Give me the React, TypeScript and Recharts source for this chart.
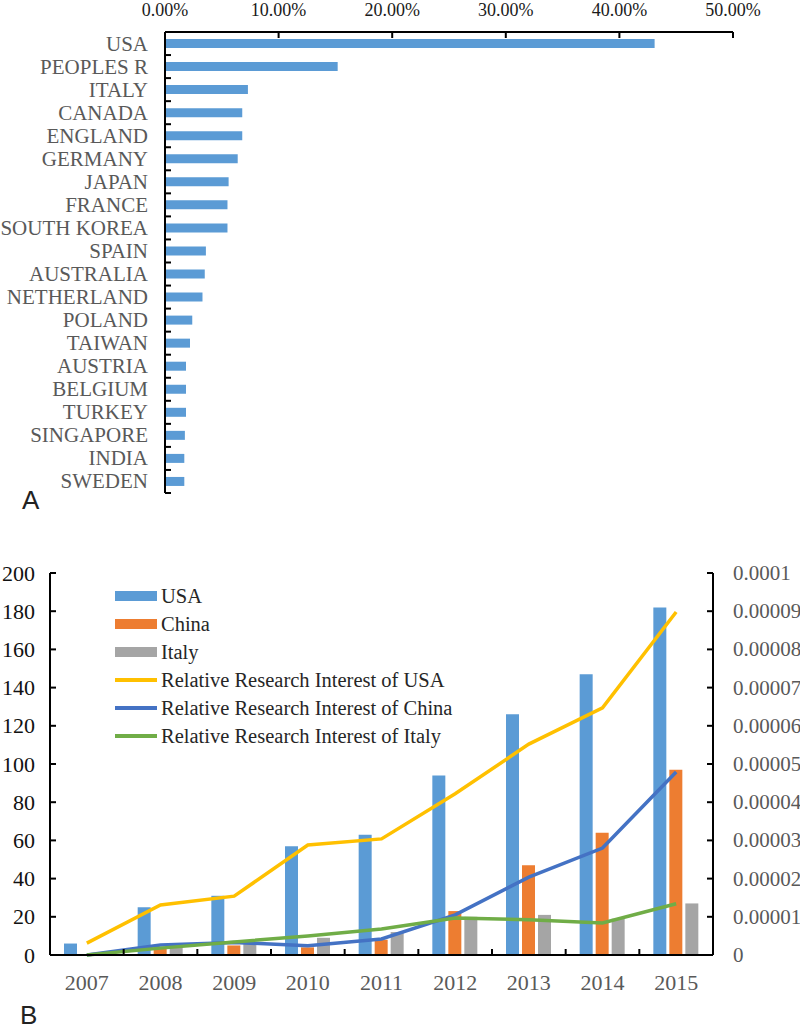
import React from "react";
import { Bar, BarChart, ComposedChart, Legend, Line, XAxis, YAxis } from "recharts";

// Panel A: share of publications by country
const countries = [
  "USA", "PEOPLES R", "ITALY", "CANADA", "ENGLAND", "GERMANY", "JAPAN", "FRANCE",
  "SOUTH KOREA", "SPAIN", "AUSTRALIA", "NETHERLAND", "POLAND", "TAIWAN", "AUSTRIA",
  "BELGIUM", "TURKEY", "SINGAPORE", "INDIA", "SWEDEN",
];
const countryShare = [
  43.1, 15.2, 7.3, 6.8, 6.8, 6.4, 5.6, 5.5, 5.5, 3.6, 3.5, 3.3, 2.4, 2.2, 1.85, 1.85,
  1.85, 1.75, 1.7, 1.7,
];
const shareTicks = [0, 10, 20, 30, 40, 50];

// Panel B: publications per year and relative research interest
const years = ["2007", "2008", "2009", "2010", "2011", "2012", "2013", "2014", "2015"];
const usaPapers = [6, 25, 31, 57, 63, 94, 126, 147, 182];
const chinaPapers = [0, 4, 5, 4, 8, 23, 47, 64, 97];
const italyPapers = [0, 5, 6, 9, 12, 20, 21, 19, 27];
const usaInterest = [0.0000031, 0.0000131, 0.0000154, 0.0000288, 0.0000304, 0.0000422, 0.0000552, 0.0000647, 0.0000898];
const chinaInterest = [0, 0.0000026, 0.0000033, 0.0000024, 0.0000042, 0.0000105, 0.0000204, 0.000028, 0.0000479];
const italyInterest = [0, 0.0000018, 0.0000034, 0.000005, 0.0000068, 0.0000097, 0.0000092, 0.0000084, 0.0000134];
const countTicks = [0, 20, 40, 60, 80, 100, 120, 140, 160, 180, 200];
const interestTicks = [0, 0.00001, 0.00002, 0.00003, 0.00004, 0.00005, 0.00006, 0.00007, 0.00008, 0.00009, 0.0001];

const legendLabels = [
  "USA",
  "China",
  "Italy",
  "Relative Research Interest of USA",
  "Relative Research Interest of China",
  "Relative Research Interest of Italy",
];

const shareData = countries.map((country, i) => ({ country, share: countryShare[i] }));
const yearData = years.map((year, i) => ({
  year,
  usa: usaPapers[i],
  china: chinaPapers[i],
  italy: italyPapers[i],
  usaRI: usaInterest[i],
  chinaRI: chinaInterest[i],
  italyRI: italyInterest[i],
}));

const SERIF = '"Liberation Serif", "Times New Roman", serif';
const SANS = '"Liberation Sans", Arial, sans-serif';
const colors = {
  usa: "#5B9BD5",
  china: "#ED7D31",
  italy: "#A5A5A5",
  usaRI: "#FFC000",
  chinaRI: "#4472C4",
  italyRI: "#70AD47",
};
const axisLine = { stroke: "#000", strokeWidth: 2 };

const topBand = (493 - 32) / countries.length;
const yearBand = (713 - 50) / years.length;

function ShareTick({ x, y, payload }: any) {
  return (
    <g>
      <text x={x} y={y - 22} textAnchor="middle" dominantBaseline="central" fill="#1a1a1a" fontSize={18} fontFamily={SERIF}>
        {payload.value.toFixed(2)}%
      </text>
      {payload.value > 0 && <line x1={x} x2={x} y1={y} y2={y + 6} stroke="#000" strokeWidth={2} />}
    </g>
  );
}

function CountryTick({ x, y, payload }: any) {
  const yb = y + topBand / 2;
  return (
    <g>
      <text x={x - 17} y={y} textAnchor="end" dominantBaseline="central" fill="#595959" fontSize={21} fontFamily={SERIF}>
        {payload.value}
      </text>
      <line x1={x} x2={x + 6} y1={yb} y2={yb} stroke="#000" strokeWidth={2} />
    </g>
  );
}

function YearTick({ x, y, payload, index }: any) {
  const xb = x + yearBand / 2;
  return (
    <g>
      <text x={x} y={y + 27} textAnchor="middle" dominantBaseline="central" fill="#595959" fontSize={22} fontFamily={SERIF}>
        {payload.value}
      </text>
      {index < years.length - 1 && <line x1={xb} x2={xb} y1={y} y2={y - 6} stroke="#000" strokeWidth={2} />}
    </g>
  );
}

function CountTick({ x, y, payload }: any) {
  return (
    <g>
      <text x={x - 15} y={y} textAnchor="end" dominantBaseline="central" fill="#111" fontSize={22} fontFamily={SERIF}>
        {payload.value}
      </text>
      <line x1={x} x2={x + 6} y1={y} y2={y} stroke="#000" strokeWidth={2} />
    </g>
  );
}

function InterestTick({ x, y, payload }: any) {
  const v = payload.value;
  const label = v === 0 ? "0" : v.toFixed(5).replace(/0+$/, "");
  return (
    <g>
      <text x={x + 20} y={y} textAnchor="start" dominantBaseline="central" fill="#595959" fontSize={21} fontFamily={SERIF}>
        {label}
      </text>
      <line x1={x} x2={x - 6} y1={y} y2={y} stroke="#000" strokeWidth={2} />
    </g>
  );
}

function SeriesLegend() {
  const swatchColors = [colors.usa, colors.china, colors.italy, colors.usaRI, colors.chinaRI, colors.italyRI];
  return (
    <div style={{ fontFamily: SERIF, fontSize: 20.5, color: "#262626" }}>
      {legendLabels.map((label, i) => (
        <div key={label} style={{ display: "flex", alignItems: "center", height: 28, whiteSpace: "nowrap" }}>
          <span
            style={{
              display: "inline-block",
              width: 42,
              height: i < 3 ? 10 : 4,
              background: swatchColors[i],
              marginRight: 4,
            }}
          />
          <span>{label}</span>
        </div>
      ))}
    </div>
  );
}

export default function App() {
  return (
    <div style={{ position: "absolute", left: 0, top: 0, width: 800, height: 1028, background: "#fff" }}>
      <div style={{ position: "absolute", left: 0, top: 0 }}>
        <BarChart layout="vertical" width={800} height={510} data={shareData} margin={{ top: 0, right: 67, bottom: 17, left: 0 }}>
          <XAxis
            type="number"
            orientation="top"
            domain={[0, 50]}
            ticks={shareTicks}
            interval={0}
            height={32}
            tickSize={0}
            tickMargin={0}
            tick={(p: any) => <ShareTick {...p} />}
            axisLine={axisLine}
          />
          <YAxis
            type="category"
            dataKey="country"
            width={165}
            interval={0}
            tickSize={0}
            tickMargin={0}
            tick={(p: any) => <CountryTick {...p} />}
            axisLine={axisLine}
          />
          <Bar dataKey="share" fill={colors.usa} barSize={9} isAnimationActive={false} />
        </BarChart>
      </div>
      <div style={{ position: "absolute", left: 22, top: 487, fontFamily: SANS, fontSize: 26, lineHeight: "26px", color: "#222" }}>A</div>

      <div style={{ position: "absolute", left: 0, top: 540 }}>
        <ComposedChart
          width={800}
          height={488}
          data={yearData}
          margin={{ top: 33, right: 0, bottom: 38, left: 0 }}
          barGap={3}
          barCategoryGap="19%"
        >
          <XAxis
            dataKey="year"
            height={35}
            interval={0}
            tickSize={0}
            tickMargin={0}
            tick={(p: any) => <YearTick {...p} />}
            axisLine={axisLine}
          />
          <YAxis
            yAxisId="count"
            domain={[0, 200]}
            ticks={countTicks}
            interval={0}
            width={50}
            tickSize={0}
            tickMargin={0}
            tick={(p: any) => <CountTick {...p} />}
            axisLine={axisLine}
          />
          <YAxis
            yAxisId="interest"
            orientation="right"
            domain={[0, 0.0001]}
            ticks={interestTicks}
            interval={0}
            width={87}
            tickSize={0}
            tickMargin={0}
            tick={(p: any) => <InterestTick {...p} />}
            axisLine={axisLine}
          />
          <Bar yAxisId="count" dataKey="usa" fill={colors.usa} barSize={13} isAnimationActive={false} />
          <Bar yAxisId="count" dataKey="china" fill={colors.china} barSize={13} isAnimationActive={false} />
          <Bar yAxisId="count" dataKey="italy" fill={colors.italy} barSize={13} isAnimationActive={false} />
          <Line yAxisId="interest" type="linear" dataKey="usaRI" stroke={colors.usaRI} strokeWidth={3.5} dot={false} isAnimationActive={false} />
          <Line yAxisId="interest" type="linear" dataKey="chinaRI" stroke={colors.chinaRI} strokeWidth={3.5} dot={false} isAnimationActive={false} />
          <Line yAxisId="interest" type="linear" dataKey="italyRI" stroke={colors.italyRI} strokeWidth={3.5} dot={false} isAnimationActive={false} />
          <Legend
            layout="vertical"
            align="center"
            verticalAlign="middle"
            wrapperStyle={{ left: 115, top: 42, width: 440 }}
            content={() => <SeriesLegend />}
          />
        </ComposedChart>
      </div>
      <div style={{ position: "absolute", left: 20, top: 1002, fontFamily: SANS, fontSize: 26, lineHeight: "26px", color: "#222" }}>B</div>
    </div>
  );
}
